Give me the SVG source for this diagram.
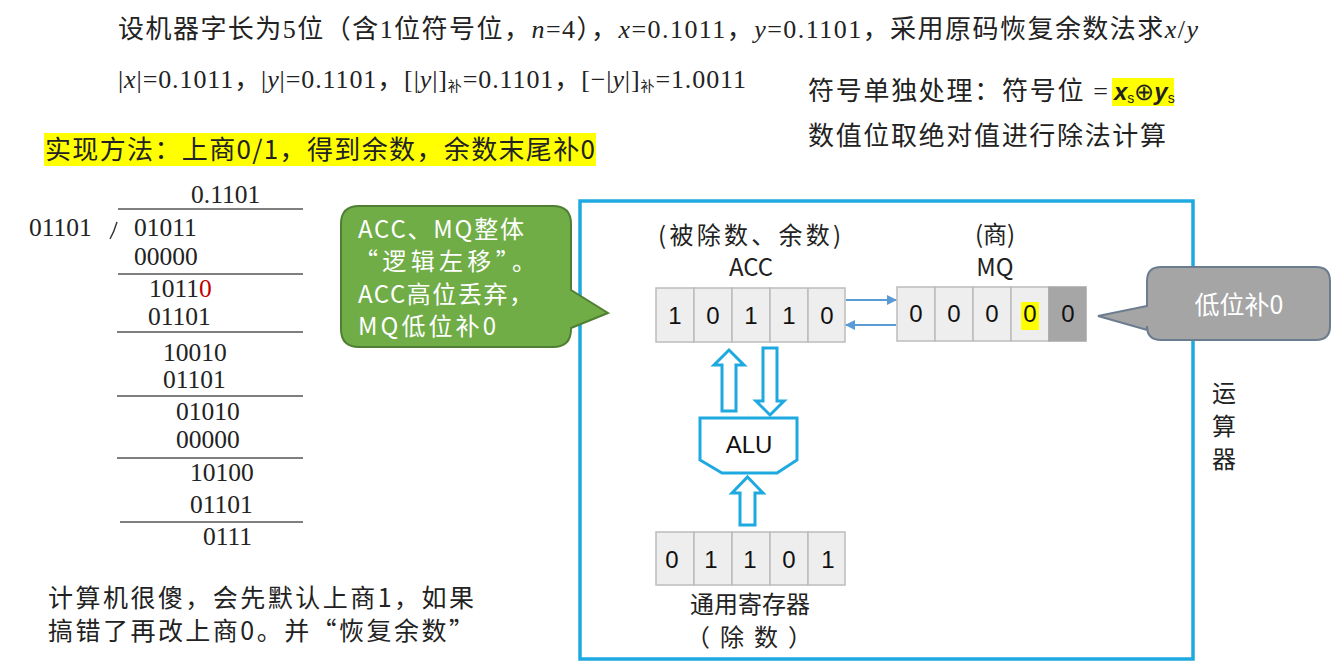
<svg xmlns="http://www.w3.org/2000/svg" width="1336" height="665" viewBox="0 0 1336 665">
<defs>
<style>
.serif{font-family:"Liberation Serif","Noto Sans CJK SC",serif;fill:#222}
.sans{font-family:"Noto Sans CJK SC","Liberation Sans",sans-serif;fill:#222}
.num{font-family:"Liberation Serif",serif;font-size:25.5px;fill:#222}
.cell{fill:#eeeeee;stroke:#bcbcbc;stroke-width:1.5}
.digit{font-family:"Liberation Sans","Noto Sans",sans-serif;font-size:24px;fill:#111;text-anchor:middle}
.rule{stroke:#555;stroke-width:1.3}
.bus{fill:#fff;stroke:#1ea9e0;stroke-width:3;stroke-linejoin:miter}
.link{stroke:#5b9bd5;stroke-width:2;fill:none}
.hl{fill:#ffff00}
.it{font-style:italic}
.white{fill:#ffffff}
</style>
<marker id="ah" viewBox="0 0 10 10" refX="9" refY="5" markerWidth="5" markerHeight="5" orient="auto-start-reverse" markerUnits="strokeWidth">
<path d="M0,0 L10,5 L0,10 z" fill="#5b9bd5"/>
</marker>
</defs>
<rect width="1336" height="665" fill="#ffffff"/>

<g id="header">
<text class="serif" x="118" y="38" font-size="26" textLength="1080" lengthAdjust="spacing">设机器字长为5位（含1位符号位，<tspan class="it">n</tspan>=4），<tspan class="it">x</tspan>=0.1011，<tspan class="it">y</tspan>=0.1101，采用原码恢复余数法求<tspan class="it">x</tspan>/<tspan class="it">y</tspan></text>
<text class="serif" x="118" y="88" font-size="26" textLength="628" lengthAdjust="spacing">|<tspan class="it">x</tspan>|=0.1011，|<tspan class="it">y</tspan>|=0.1101，[|<tspan class="it">y</tspan>|]<tspan font-size="14" dy="3">补</tspan><tspan dy="-3">=0.1101，[−|</tspan><tspan class="it">y</tspan>|]<tspan font-size="14" dy="3">补</tspan><tspan dy="-3">=1.0011</tspan></text>
</g>

<g id="sign-note">
<rect class="hl" x="1112" y="78" width="62" height="28"/>
<text class="serif" x="808" y="100" font-size="26" textLength="300" lengthAdjust="spacing">符号单独处理：符号位 =</text>
<text x="1114" y="100" font-family="Liberation Sans,Noto Sans,sans-serif" font-size="24" fill="#222"><tspan font-style="italic" font-weight="bold">x</tspan><tspan font-size="14" dy="3">s</tspan><tspan dy="-3">⊕</tspan><tspan font-style="italic" font-weight="bold">y</tspan><tspan font-size="14" dy="3">s</tspan></text>
<text class="serif" x="808" y="145" font-size="26" textLength="358" lengthAdjust="spacing">数值位取绝对值进行除法计算</text>
</g>

<g id="method">
<rect class="hl" x="44" y="133" width="552" height="33"/>
<text class="sans" x="45" y="159" font-size="26" textLength="550" lengthAdjust="spacing">实现方法：上商0/1，得到余数，余数末尾补0</text>
</g>

<g id="long-division">
<text class="num" x="191" y="203">0.1101</text>
<line class="rule" x1="118" y1="209" x2="303" y2="209"/>
<text class="num" x="29" y="236">01101</text>
<path d="M117,222 Q114,232 110,239" fill="none" stroke="#333" stroke-width="1.4"/>
<text class="num" x="134" y="236">01011</text>
<text class="num" x="134" y="265">00000</text>
<line class="rule" x1="118" y1="274" x2="303" y2="274"/>
<text class="num" x="149" y="297">1011<tspan fill="#c00000">0</tspan></text>
<text class="num" x="148" y="325">01101</text>
<line class="rule" x1="117" y1="332" x2="303" y2="332"/>
<text class="num" x="163" y="361">10010</text>
<text class="num" x="163" y="388">01101</text>
<line class="rule" x1="117" y1="396" x2="303" y2="396"/>
<text class="num" x="176" y="420">01010</text>
<text class="num" x="176" y="448">00000</text>
<line class="rule" x1="117" y1="458" x2="303" y2="458"/>
<text class="num" x="190" y="481">10100</text>
<text class="num" x="190" y="513">01101</text>
<line class="rule" x1="120" y1="522" x2="303" y2="522"/>
<text class="num" x="203" y="545">0111</text>
</g>

<g id="note-bottom">
<text class="sans" x="48" y="607" font-size="25" textLength="426" lengthAdjust="spacing">计算机很傻，会先默认上商1，如果</text>
<text class="sans" x="48" y="640" font-size="25" textLength="426" lengthAdjust="spacing">搞错了再改上商0。并“恢复余数”</text>
</g>

<g id="alu-unit">
<rect x="580" y="201" width="613" height="458" fill="none" stroke="#1ea9e0" stroke-width="3.5"/>
<text class="sans" x="1224" y="402" font-size="24" text-anchor="middle">运</text>
<text class="sans" x="1224" y="435" font-size="24" text-anchor="middle">算</text>
<text class="sans" x="1224" y="468" font-size="24" text-anchor="middle">器</text>
</g>

<g id="acc">
<text class="sans" x="658" y="244" font-size="24" textLength="183" lengthAdjust="spacing">(被除数、余数)</text>
<text class="sans" x="751" y="276" font-size="24" text-anchor="middle">ACC</text>
<rect class="cell" x="656" y="288" width="38" height="54"/>
<rect class="cell" x="694" y="288" width="38" height="54"/>
<rect class="cell" x="732" y="288" width="38" height="54"/>
<rect class="cell" x="770" y="288" width="38" height="54"/>
<rect class="cell" x="808" y="288" width="37" height="54"/>
<text class="digit" x="675" y="324">1</text>
<text class="digit" x="713" y="324">0</text>
<text class="digit" x="751" y="324">1</text>
<text class="digit" x="789" y="324">1</text>
<text class="digit" x="827" y="324">0</text>
</g>

<g id="mq">
<text class="sans" x="995" y="243" font-size="24" text-anchor="middle">(商)</text>
<text class="sans" x="995" y="276" font-size="24" text-anchor="middle">MQ</text>
<rect class="cell" x="897" y="287" width="38" height="54"/>
<rect class="cell" x="935" y="287" width="38" height="54"/>
<rect class="cell" x="973" y="287" width="38" height="54"/>
<rect class="cell" x="1011" y="287" width="38" height="54"/>
<rect x="1049" y="287" width="37" height="54" fill="#a6a6a6" stroke="#a6a6a6" stroke-width="1.5"/>
<rect class="hl" x="1021" y="302" width="18" height="28"/>
<text class="digit" x="916" y="322">0</text>
<text class="digit" x="954" y="322">0</text>
<text class="digit" x="992" y="322">0</text>
<text class="digit" x="1030" y="322">0</text>
<text class="digit" x="1068" y="322">0</text>
</g>

<g id="alu">
<polygon class="bus" points="700,418 797,418 797,460 777,473 722,473 700,460"/>
<text class="digit" x="749" y="453" font-size="22">ALU</text>
</g>

<g id="gpr">
<rect class="cell" x="656" y="532" width="38" height="53"/>
<rect class="cell" x="694" y="532" width="38" height="53"/>
<rect class="cell" x="732" y="532" width="38" height="53"/>
<rect class="cell" x="770" y="532" width="38" height="53"/>
<rect class="cell" x="808" y="532" width="37" height="53"/>
<text class="digit" x="672" y="568">0</text>
<text class="digit" x="711" y="568">1</text>
<text class="digit" x="750" y="568">1</text>
<text class="digit" x="789" y="568">0</text>
<text class="digit" x="828" y="568">1</text>
<text class="sans" x="750" y="613" font-size="24" text-anchor="middle">通用寄存器</text>
<text class="sans" x="686" y="646" font-size="24" textLength="126" lengthAdjust="spacing">（除数）</text>
</g>

<g id="connectors">
<line class="link" x1="846" y1="300" x2="896" y2="300" marker-end="url(#ah)"/>
<line class="link" x1="896" y1="325" x2="846" y2="325" marker-end="url(#ah)"/>
<polygon class="bus" points="722,411 736,411 736,365 744,365 729,350 714,365 722,365"/>
<polygon class="bus" points="763,348 777,348 777,401 784,401 770,415 756,401 763,401"/>
<polygon class="bus" points="740,525 755,525 755,493 763,493 747.5,477 732,493 740,493"/>
</g>

<g id="callout-shift">
<path d="M359,206 H553 Q571,206 571,224 V290 L608,313 L571,328 V329 Q571,347 553,347 H359 Q341,347 341,329 V224 Q341,206 359,206 Z" fill="#70ad47" stroke="#4f7f33" stroke-width="2"/>
<text class="sans white" x="358" y="238" font-size="24" textLength="166" lengthAdjust="spacing">ACC、MQ整体</text>
<text class="sans white" x="354" y="270" font-size="24" textLength="182" lengthAdjust="spacing">“逻辑左移”。</text>
<text class="sans white" x="358" y="303" font-size="24" textLength="175" lengthAdjust="spacing">ACC高位丢弃，</text>
<text class="sans white" x="358" y="335" font-size="24" textLength="138" lengthAdjust="spacing">MQ低位补0</text>
</g>

<g id="callout-fill">
<path d="M1161,267 H1316 Q1330,267 1330,281 V326 Q1330,340 1316,340 H1161 Q1147,340 1147,326 V330 L1098,316 L1147,306 V281 Q1147,267 1161,267 Z" fill="#a5a5a5" stroke="#6b7c8e" stroke-width="2"/>
<text class="sans white" x="1239" y="314" font-size="25" text-anchor="middle">低位补0</text>
</g>
</svg>
